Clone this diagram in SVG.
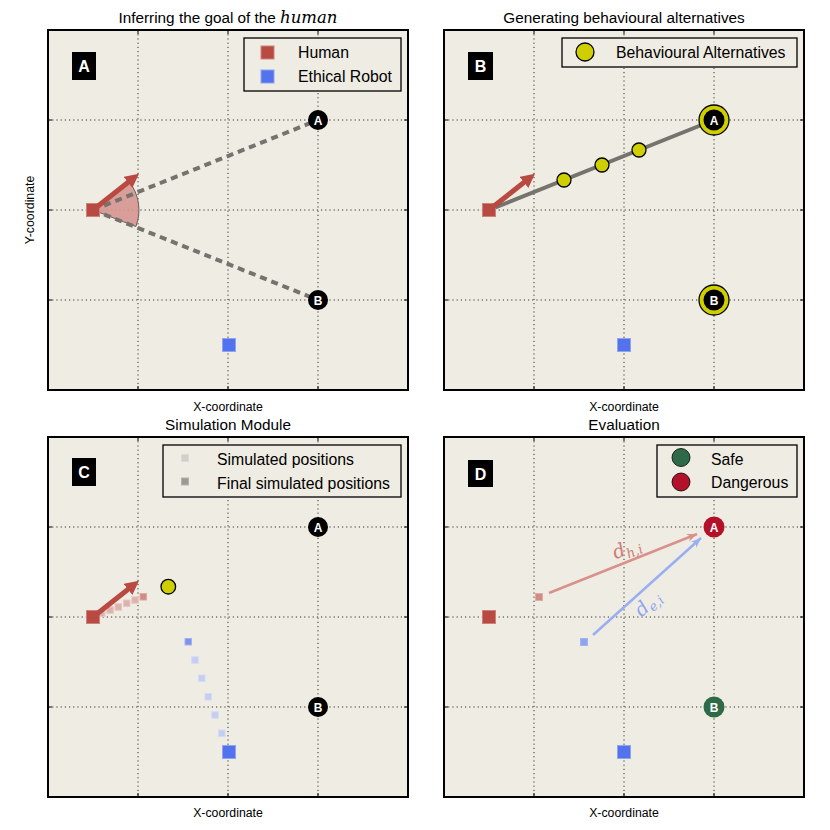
<svg xmlns="http://www.w3.org/2000/svg" width="830" height="830" viewBox="0 0 830 830">
<style>
text{font-family:"Liberation Sans",Arial,sans-serif;fill:#000}
.title{font-size:15.3px;text-anchor:middle}
.axl{font-size:12.3px;text-anchor:middle}
.leg{font-size:15.8px}
.bg{fill:#EFECE3}
.frame{fill:none;stroke:#000;stroke-width:2}
.grid{stroke:#333;stroke-width:1;stroke-dasharray:1.2 3;fill:none}
.tick{stroke:#000;stroke-width:1}
.legbox{fill:#EFECE3;stroke:#000;stroke-width:1.3}
.lbox{fill:#000}
.ltxt{fill:#fff;font-weight:bold;font-size:16px;text-anchor:middle}
.goal{fill:#000}
.gtxt{fill:#fff;font-weight:bold;font-size:12px;text-anchor:middle}
.human{fill:#B84A42;stroke:#C9837D;stroke-width:1}
.robot{fill:#5272EE;stroke:#91A3F0;stroke-width:1}
.head{stroke:#B84A42;stroke-width:5;fill:none}
.dash{stroke:#76726C;stroke-width:4;stroke-dasharray:7 5;fill:none}
.alt{fill:#CFCF00;stroke:#000;stroke-width:1.3}
.simh{fill:#DDB2AD;stroke:#E6C9C5;stroke-width:1}
.simhf{fill:#D28C86;stroke:#DDAAA5;stroke-width:1}
.simr{fill:#C4CDF2;stroke:#D5DBF3;stroke-width:1}
.simrf{fill:#7A92F0;stroke:#A3B2F1;stroke-width:1}
.sub{font-family:"DejaVu Serif","Liberation Serif",serif;font-style:italic}
</style>
<defs>
<marker id="mh" markerUnits="userSpaceOnUse" markerWidth="16" markerHeight="16" viewBox="0 0 16 16" refX="1" refY="7" orient="auto"><path d="M0,0 L14,7 L0,14 z" fill="#B84A42"/></marker>
<marker id="mp" markerUnits="userSpaceOnUse" markerWidth="12" markerHeight="12" viewBox="0 0 12 12" refX="10" refY="5" orient="auto"><path d="M0,1 L10,5 L0,9 L3,5 z" fill="#D9918B"/></marker>
<marker id="mb" markerUnits="userSpaceOnUse" markerWidth="12" markerHeight="12" viewBox="0 0 12 12" refX="10" refY="5" orient="auto"><path d="M0,1 L10,5 L0,9 L3,5 z" fill="#9AAEF2"/></marker>
</defs>
<rect width="830" height="830" fill="#fff"/>

<!-- Panel A -->
<g id="panelA">
<text class="title" x="228" y="23">Inferring the goal of the <tspan class="sub" font-size="16.5">human</tspan></text>
<rect class="bg" x="48" y="30" width="360" height="360"/>
<g class="grid"><path d="M138,30V390M228,30V390M318,30V390M48,120H408M48,210H408M48,300H408"/></g>
<g class="tick"><path d="M138,390v-4M228,390v-4M318,390v-4M138,30v4M228,30v4M318,30v4M48,120h4M48,210h4M48,300h4M408,120h-4M408,210h-4M408,300h-4"/></g>
<rect class="frame" x="48" y="30" width="360" height="360"/>
<text class="axl" x="228" y="411">X-coordinate</text>
<text class="axl" transform="translate(34,210) rotate(-90)">Y-coordinate</text>
<g id="labelA"><rect class="lbox" x="72" y="52" width="24" height="28"/><text class="ltxt" x="84" y="72">A</text></g>
<g id="legendA">
<rect class="legbox" x="244" y="38" width="157" height="53"/>
<rect class="human" x="261" y="46" width="13" height="13"/>
<text class="leg" x="298" y="57.5">Human</text>
<rect class="robot" x="261" y="70" width="13" height="13"/>
<text class="leg" x="298" y="81.5">Ethical Robot</text>
</g>
<g id="connA">
<path d="M93,210 L129.2,181.7 A46,46 0 0,1 135.9,226.5 Z" fill="#D69690" stroke="#6A5E58" stroke-width="1" fill-opacity="0.9"/>
<line class="dash" x1="93" y1="210" x2="318" y2="120"/>
<line class="dash" x1="93" y1="210" x2="318" y2="300"/>
</g>
<g id="goalA_A"><circle class="goal" cx="318" cy="120" r="10"/><text class="gtxt" x="318" y="124.5">A</text></g>
<g id="goalA_B"><circle class="goal" cx="318" cy="300" r="10"/><text class="gtxt" x="318" y="304.5">B</text></g>
<g id="humanA"><rect class="human" x="86.5" y="203.5" width="13" height="13"/><line class="head" x1="93" y1="210" x2="128.8" y2="181.8" marker-end="url(#mh)"/></g>
<g id="robotA"><rect class="robot" x="222.5" y="338.5" width="13" height="13"/></g>
</g>

<!-- Panel B -->
<g id="panelB">
<text class="title" x="624" y="23">Generating behavioural alternatives</text>
<rect class="bg" x="444" y="30" width="360" height="360"/>
<g class="grid"><path d="M534,30V390M624,30V390M714,30V390M444,120H804M444,210H804M444,300H804"/></g>
<g class="tick"><path d="M534,390v-4M624,390v-4M714,390v-4M534,30v4M624,30v4M714,30v4M444,120h4M444,210h4M444,300h4M804,120h-4M804,210h-4M804,300h-4"/></g>
<rect class="frame" x="444" y="30" width="360" height="360"/>
<text class="axl" x="624" y="411">X-coordinate</text>
<g id="labelB"><rect class="lbox" x="468" y="52" width="25" height="28"/><text class="ltxt" x="480.5" y="72">B</text></g>
<g id="legendB">
<rect class="legbox" x="562" y="38" width="235" height="29"/>
<circle class="alt" cx="585" cy="52" r="9"/>
<text class="leg" x="616" y="57.5">Behavioural Alternatives</text>
</g>
<g id="connB"><line x1="489" y1="210" x2="714" y2="120" stroke="#76726C" stroke-width="4"/></g>
<g id="goalB_A"><circle class="alt" cx="714" cy="120" r="15" stroke-width="1.5"/><circle class="goal" cx="714" cy="120" r="10.5"/><text class="gtxt" x="714" y="124.5">A</text></g>
<g id="goalB_B"><circle class="alt" cx="714" cy="300" r="15" stroke-width="1.5"/><circle class="goal" cx="714" cy="300" r="10.5"/><text class="gtxt" x="714" y="304.5">B</text></g>
<g id="alts"><circle class="alt" cx="564" cy="180" r="7"/><circle class="alt" cx="602" cy="165" r="7"/><circle class="alt" cx="639" cy="150" r="7"/></g>
<g id="humanB"><rect class="human" x="482.5" y="203.5" width="13" height="13"/><line class="head" x1="489" y1="210" x2="524.8" y2="181.8" marker-end="url(#mh)"/></g>
<g id="robotB"><rect class="robot" x="617.5" y="338.5" width="13" height="13"/></g>
</g>

<!-- Panel C -->
<g id="panelC">
<text class="title" x="228" y="430">Simulation Module</text>
<rect class="bg" x="48" y="437" width="360" height="360"/>
<g class="grid"><path d="M138,437V797M228,437V797M318,437V797M48,527H408M48,617H408M48,707H408"/></g>
<g class="tick"><path d="M138,797v-4M228,797v-4M318,797v-4M138,437v4M228,437v4M318,437v4M48,527h4M48,617h4M48,707h4M408,527h-4M408,617h-4M408,707h-4"/></g>
<rect class="frame" x="48" y="437" width="360" height="360"/>
<text class="axl" x="228" y="817">X-coordinate</text>
<g id="labelC"><rect class="lbox" x="72" y="458" width="24" height="28"/><text class="ltxt" x="84" y="478">C</text></g>
<g id="legendC">
<rect class="legbox" x="163" y="445" width="238" height="52"/>
<rect x="181.5" y="454.5" width="7" height="7" fill="#D2CFC9" stroke="#DEDBD5"/>
<text class="leg" x="217" y="464.5">Simulated positions</text>
<rect x="181.5" y="478" width="7" height="7" fill="#9C9994" stroke="#B5B2AC"/>
<text class="leg" x="217" y="488.5">Final simulated positions</text>
</g>
<g id="goalC_A"><circle class="goal" cx="318" cy="527" r="10"/><text class="gtxt" x="318" y="531.5">A</text></g>
<g id="goalC_B"><circle class="goal" cx="318" cy="707" r="10"/><text class="gtxt" x="318" y="711.5">B</text></g>
<g id="altC"><circle class="alt" cx="168.3" cy="586.7" r="7.3"/></g>
<g id="simHuman">
<rect class="simh" x="98.5" y="610" width="6.5" height="6.5"/>
<rect class="simh" x="106.8" y="606.8" width="6.5" height="6.5"/>
<rect class="simh" x="115" y="603.8" width="6.5" height="6.5"/>
<rect class="simh" x="123.5" y="600" width="6.5" height="6.5"/>
<rect class="simh" x="131.8" y="596.8" width="6.5" height="6.5"/>
<rect class="simhf" x="140" y="593.5" width="6.5" height="6.5"/>
</g>
<g id="simRobot">
<rect class="simrf" x="185" y="638.5" width="6.5" height="6.5"/>
<rect class="simr" x="191.8" y="656.8" width="6.5" height="6.5"/>
<rect class="simr" x="198.5" y="675" width="6.5" height="6.5"/>
<rect class="simr" x="205" y="693.5" width="6.5" height="6.5"/>
<rect class="simr" x="211.8" y="711.8" width="6.5" height="6.5"/>
<rect class="simr" x="218.5" y="730" width="6.5" height="6.5"/>
</g>
<g id="humanC"><rect class="human" x="86.5" y="610.5" width="13" height="13"/><line class="head" x1="93" y1="617" x2="128.8" y2="588.8" marker-end="url(#mh)"/></g>
<g id="robotC"><rect class="robot" x="222.5" y="745.5" width="13" height="13"/></g>
</g>

<!-- Panel D -->
<g id="panelD">
<text class="title" x="624" y="430">Evaluation</text>
<rect class="bg" x="444" y="437" width="360" height="360"/>
<g class="grid"><path d="M534,437V797M624,437V797M714,437V797M444,527H804M444,617H804M444,707H804"/></g>
<g class="tick"><path d="M534,797v-4M624,797v-4M714,797v-4M534,437v4M624,437v4M714,437v4M444,527h4M444,617h4M444,707h4M804,527h-4M804,617h-4M804,707h-4"/></g>
<rect class="frame" x="444" y="437" width="360" height="360"/>
<text class="axl" x="624" y="817">X-coordinate</text>
<g id="labelD"><rect class="lbox" x="468" y="460" width="25" height="27"/><text class="ltxt" x="480.5" y="480">D</text></g>
<g id="legendD">
<rect class="legbox" x="657" y="445" width="140" height="52"/>
<circle cx="681" cy="457.5" r="9" fill="#2E6A47" stroke="#000" stroke-width="0.8"/>
<text class="leg" x="711" y="464.5">Safe</text>
<circle cx="681" cy="482" r="9" fill="#B3102A" stroke="#000" stroke-width="0.8"/>
<text class="leg" x="711" y="488">Dangerous</text>
</g>
<g id="connD">
<line x1="549" y1="593" x2="697" y2="534" stroke="#D9918B" stroke-width="2.5" marker-end="url(#mp)"/>
<line x1="593" y1="635" x2="701" y2="538" stroke="#9AAEF2" stroke-width="2.5" marker-end="url(#mb)"/>
<text class="sub" font-size="19" style="fill:#CF7A72" transform="translate(629,554) rotate(-21.7)" text-anchor="middle">d<tspan font-size="13" dy="4">h,i</tspan></text>
<text class="sub" font-size="19" style="fill:#8FA5F2" transform="translate(652,608) rotate(-41.9)" text-anchor="middle">d<tspan font-size="13" dy="4">e,i</tspan></text>
</g>
<g id="goalD_A"><circle cx="714" cy="527" r="10.5" fill="#B3102A"/><text class="gtxt" x="714" y="531.5">A</text></g>
<g id="goalD_B"><circle cx="714" cy="707" r="10.5" fill="#2E6A47"/><text class="gtxt" x="714" y="711.5">B</text></g>
<g id="simHumanD"><rect class="simhf" x="535.5" y="593.5" width="7" height="7"/></g>
<g id="simRobotD"><rect class="simrf" x="580.5" y="638.5" width="7" height="7" style="fill:#90A4F1"/></g>
<g id="humanD"><rect class="human" x="482.5" y="610.5" width="13" height="13"/></g>
<g id="robotD"><rect class="robot" x="617.5" y="745.5" width="13" height="13"/></g>
</g>
</svg>
